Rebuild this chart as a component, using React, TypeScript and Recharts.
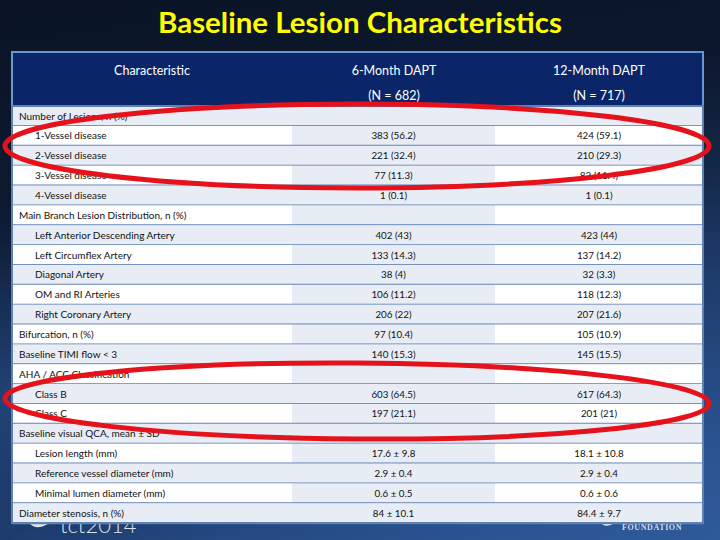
import React from "react";
import { BarChart, Bar, XAxis, YAxis, LabelList, Cell } from "recharts";

const title = "Baseline Lesion Characteristics";
const columnHeaders = ["Characteristic", "6-Month DAPT", "12-Month DAPT"];
const groupSizes = ["", "(N = 682)", "(N = 717)"];

const rowLabels = [
  "Number of Lesions, n (%)",
  "1-Vessel disease",
  "2-Vessel disease",
  "3-Vessel disease",
  "4-Vessel disease",
  "Main Branch Lesion Distribution, n (%)",
  "Left Anterior Descending Artery",
  "Left Circumflex Artery",
  "Diagonal Artery",
  "OM and RI Arteries",
  "Right Coronary Artery",
  "Bifurcation, n (%)",
  "Baseline TIMI flow < 3",
  "AHA / ACC Classification",
  "Class B",
  "Class C",
  "Baseline visual QCA, mean ± SD",
  "Lesion length (mm)",
  "Reference vessel diameter (mm)",
  "Minimal lumen diameter (mm)",
  "Diameter stenosis, n (%)",
];
const rowIsSub = [
  false, true, true, true, true, false, true, true, true, true, true,
  false, false, false, true, true, false, true, true, true, false,
];
const sixMonth = [
  "", "383 (56.2)", "221 (32.4)", "77 (11.3)", "1 (0.1)", "",
  "402 (43)", "133 (14.3)", "38 (4)", "106 (11.2)", "206 (22)",
  "97 (10.4)", "140 (15.3)", "", "603 (64.5)", "197 (21.1)", "",
  "17.6 ± 9.8", "2.9 ± 0.4", "0.6 ± 0.5", "84 ± 10.1",
];
const twelveMonth = [
  "", "424 (59.1)", "210 (29.3)", "82 (11.4)", "1 (0.1)", "",
  "423 (44)", "137 (14.2)", "32 (3.3)", "118 (12.3)", "207 (21.6)",
  "105 (10.9)", "145 (15.5)", "", "617 (64.3)", "201 (21)", "",
  "18.1 ± 10.8", "2.9 ± 0.4", "0.6 ± 0.6", "84.4 ± 9.7",
];

// layout constants (not data)
const COL_W = [280, 203, 208];
const TOTAL_W = COL_W[0] + COL_W[1] + COL_W[2];
const LIGHT = "#e8edf5";
const WHITE = "#ffffff";
const SEP = "#5f82b3";
const FONT = "Lato, 'DejaVu Sans', sans-serif";

const tableData = rowLabels.map((label, i) => ({
  label,
  six: sixMonth[i],
  twelve: twelveMonth[i],
  c1: COL_W[0],
  c2: COL_W[1],
  c3: COL_W[2],
}));

const RowCell = (props: any) => {
  const { x, y, width, height, fill } = props;
  return (
    <g>
      <rect x={x} y={y} width={width} height={height} fill={fill} />
      <line x1={x} x2={x + width} y1={y + height} y2={y + height} stroke={SEP} strokeWidth={2} />
    </g>
  );
};

const getBox = (p: any) => {
  const vb = p.viewBox && p.viewBox.width !== undefined ? p.viewBox : p;
  return { x: Number(vb.x), y: Number(vb.y), width: Number(vb.width), height: Number(vb.height) };
};

const LabelCell = (p: any) => {
  const v = p.value;
  if (!v) return null;
  const b = getBox(p);
  const idx = rowLabels.indexOf(v);
  const sub = idx >= 0 && rowIsSub[idx];
  return (
    <text
      x={b.x + (sub ? 23 : 7)}
      y={b.y + b.height / 2 + 3.5}
      fontSize={10}
      fontFamily={FONT}
      fill="#111"
    >
      {v}
    </text>
  );
};

const ValueCell = (p: any) => {
  const v = p.value;
  if (!v) return null;
  const b = getBox(p);
  return (
    <text
      x={b.x + b.width / 2}
      y={b.y + b.height / 2 + 3.5}
      fontSize={9.8}
      fontFamily={FONT}
      fill="#111"
      textAnchor="middle"
    >
      {v}
    </text>
  );
};

export default function App() {
  return (
    <div
      style={{
        position: "absolute",
        left: 0,
        top: 0,
        width: 720,
        height: 540,
        overflow: "hidden",
        background:
          "linear-gradient(172deg, #0a1426 0%, #0d1a31 40%, #17325e 75%, #2a5290 100%)",
      }}
    >
      {/* background logos */}
      <svg width={720} height={540} style={{ position: "absolute", left: 0, top: 0 }}>
        <defs>
          <radialGradient id="glow" cx="1" cy="1" r="0.9">
            <stop offset="0%" stopColor="#2f5a9a" stopOpacity={0.9} />
            <stop offset="100%" stopColor="#2f5a9a" stopOpacity={0} />
          </radialGradient>
          <linearGradient id="leftStrip" x1="0" y1="0" x2="0" y2="1">
            <stop offset="0%" stopColor="#1d3a6a" stopOpacity={0} />
            <stop offset="60%" stopColor="#24457c" stopOpacity={0.9} />
            <stop offset="100%" stopColor="#1d3a6a" stopOpacity={0.6} />
          </linearGradient>
        </defs>
        <rect x={0} y={0} width={720} height={540} fill="url(#glow)" />
        <rect x={0} y={200} width={14} height={340} fill="url(#leftStrip)" />
        <path d="M28 522 Q38 534 54 519 Q42 528 34 520 Z" fill="#dfe3ea" />
        <text x={60} y={533} fontSize={22} fontFamily={FONT} fontWeight={300} fill="#dfe3ea">
          tct2014
        </text>
        <path d="M598 520 Q607 533 620 517 Q610 527 604 520 Z" fill="#e8ebf0" />
        <text x={622} y={530} fontSize={8} fontFamily="'Liberation Serif', 'DejaVu Serif', serif" fontWeight={700} fill="#d9dde6" letterSpacing={0.6}>
          FOUNDATION
        </text>
      </svg>

      <div style={{ position: "absolute", left: 0, top: 0 }}>
        <BarChart
          width={720}
          height={540}
          layout="vertical"
          data={tableData}
          margin={{ top: 106, right: 17, bottom: 17, left: 12 }}
          barCategoryGap={0}
          barGap={0}
        >
          <XAxis type="number" domain={[0, TOTAL_W]} hide />
          <YAxis type="category" dataKey="label" hide />
          <Bar dataKey="c1" stackId="t" isAnimationActive={false} shape={RowCell}>
            {tableData.map((_, i) => (
              <Cell key={`a${i}`} fill={i % 2 === 0 ? LIGHT : WHITE} />
            ))}
            <LabelList dataKey="label" content={LabelCell} />
          </Bar>
          <Bar dataKey="c2" stackId="t" isAnimationActive={false} shape={RowCell}>
            {tableData.map((_, i) => (
              <Cell key={`b${i}`} fill={LIGHT} />
            ))}
            <LabelList dataKey="six" content={ValueCell} />
          </Bar>
          <Bar dataKey="c3" stackId="t" isAnimationActive={false} shape={RowCell}>
            {tableData.map((_, i) => (
              <Cell key={`c${i}`} fill={i % 2 === 0 ? LIGHT : WHITE} />
            ))}
            <LabelList dataKey="twelve" content={ValueCell} />
          </Bar>
        </BarChart>
      </div>

      {/* overlay: title, header, border, annotations */}
      <svg
        width={720}
        height={540}
        style={{ position: "absolute", left: 0, top: 0, pointerEvents: "none" }}
      >
        <text
          x={360}
          y={33}
          textAnchor="middle"
          fontSize={28}
          fontWeight={700}
          fontFamily={FONT}
          fill="#ffff00"
          textLength={404}
          lengthAdjust="spacingAndGlyphs"
        >
          {title}
        </text>
        <rect x={12} y={52} width={691} height={54} fill="#0a2668" stroke="#6a95cf" strokeWidth={2} />
        <text x={152} y={75} textAnchor="middle" fontSize={12.5} fontFamily={FONT} fill="#fff">
          {columnHeaders[0]}
        </text>
        <text x={394} y={75} textAnchor="middle" fontSize={12.5} fontFamily={FONT} fill="#fff">
          {columnHeaders[1]}
        </text>
        <text x={599} y={75} textAnchor="middle" fontSize={12.5} fontFamily={FONT} fill="#fff">
          {columnHeaders[2]}
        </text>
        <text x={394} y={100} textAnchor="middle" fontSize={12.5} fontFamily={FONT} fill="#fff">
          {groupSizes[1]}
        </text>
        <text x={599} y={100} textAnchor="middle" fontSize={12.5} fontFamily={FONT} fill="#fff">
          {groupSizes[2]}
        </text>
        <rect x={12} y={106} width={691} height={417} fill="none" stroke={SEP} strokeWidth={2} />
        <ellipse cx={357} cy={146} rx={352} ry={42} fill="none" stroke="#e5121b" strokeWidth={5} />
        <ellipse
          cx={357}
          cy={401}
          rx={352}
          ry={38}
          fill="none"
          stroke="#e5121b"
          strokeWidth={5}
          transform="rotate(0.4 357 401)"
        />
      </svg>
    </div>
  );
}
